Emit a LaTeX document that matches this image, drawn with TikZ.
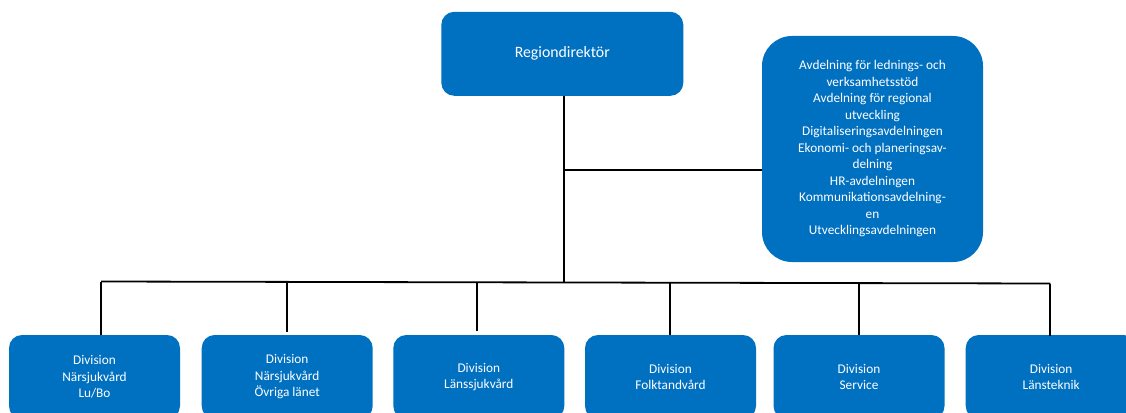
\documentclass[tikz,border=0pt]{standalone}
\usepackage{fontspec}
\setmainfont{Carlito}
\usetikzlibrary{calc}
\definecolor{boxblue}{HTML}{0070C0}
\tikzset{
  orgbox/.style={fill=boxblue, draw=none, text=white, align=center, inner sep=0pt, rounded corners=13pt},
  smalltext/.style={font=\fontsize{13.3}{16.5}\selectfont},
  conn/.style={draw=black, line width=1.8pt}
}
\begin{document}
\begin{tikzpicture}[x=1pt,y=-1pt]
\useasboundingbox (0,0) rectangle (1126,412);
% top box
\node[orgbox, minimum width=242pt, minimum height=84pt, font=\fontsize{15.8}{18}\selectfont] (top) at (562.3,53.8) {Regiondirektör};
% staff box
\node[orgbox, smalltext, rounded corners=30pt, minimum width=221pt, minimum height=226pt] (staff) at (872.5,149) {Avdelning för lednings- och\\verksamhetsstöd\\Avdelning för regional\\utveckling\\Digitaliseringsavdelningen\\Ekonomi- och planeringsav-\\delning\\HR-avdelningen\\Kommunikationsavdelning-\\en\\Utvecklingsavdelningen};
% bottom boxes
\node[orgbox, smalltext, minimum width=171pt, minimum height=84pt] (b1) at (94.5,377) {Division\\Närsjukvård\\Lu/Bo};
\node[orgbox, smalltext, minimum width=171pt, minimum height=84pt] (b2) at (287.2,377) {Division\\Närsjukvård\\Övriga länet};
\node[orgbox, smalltext, minimum width=171pt, minimum height=84pt] (b3) at (478.8,377) {Division\\Länssjukvård};
\node[orgbox, smalltext, minimum width=171pt, minimum height=84pt] (b4) at (670.5,377) {Division\\Folktandvård};
\node[orgbox, smalltext, minimum width=171pt, minimum height=84pt] (b5) at (859,377) {Division\\Service};
\node[orgbox, smalltext, minimum width=171pt, minimum height=84pt] (b6) at (1051.2,377) {Division\\Länsteknik};
% connectors
\coordinate (j) at (564.3,282.5);
\coordinate (br) at (564.3,170);
\coordinate (busl) at (101,281.5);
\coordinate (busr) at (1050.3,283.5);
\draw[conn] (j |- top.south) -- (j);
\draw[conn] (br) -- (br -| staff.west);
\draw[conn] (busl) -- (busr);
\coordinate (d1) at (101,281.5);
\coordinate (d2) at (286.7,282);
\coordinate (d3) at (477.3,282.3);
\coordinate (d4) at (670,282.8);
\coordinate (d5) at (858.7,283.2);
\coordinate (d6) at (1050.3,283.5);
\draw[conn] (d1) -- (d1 |- b1.north);
\draw[conn] (d2) -- ($(d2 |- b2.north)+(0,-3)$);
\draw[conn] (d3) -- ($(d3 |- b3.north)+(0,-4)$);
\draw[conn] (d4) -- (d4 |- b4.north);
\draw[conn] (d5) -- (d5 |- b5.north);
\draw[conn] (d6) -- ($(d6 |- b6.north)+(0,1.5)$);
\end{tikzpicture}
\end{document}
